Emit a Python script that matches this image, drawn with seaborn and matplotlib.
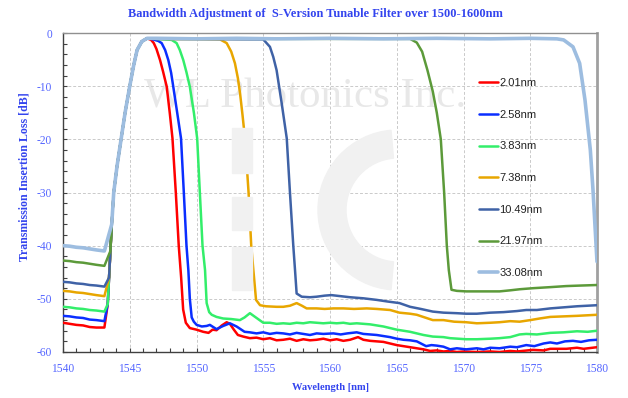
import numpy as np
import pandas as pd
import matplotlib
matplotlib.use("Agg")
import matplotlib.pyplot as plt
import seaborn as sns
from matplotlib.ticker import MultipleLocator
from matplotlib.patches import Wedge, Rectangle
from matplotlib.transforms import IdentityTransform

# ---------------- data ----------------
LABELS = ["2.01nm", "2.58nm", "3.83nm", "7.38nm", "10.49nm", "21.97nm", "33.08nm"]
COLORS = ["#FF0000", "#0A2EFF", "#33EE6A", "#E8A600", "#3F62A6", "#5C9A3A", "#9DBDE0"]

# shared rising edge of the filter
RISE_WL = [1543.25, 1543.35, 1543.45, 1543.55, 1543.65, 1543.8, 1544.05, 1544.35, 1544.65,
           1545.0, 1545.3, 1545.55, 1545.9, 1546.3]
RISE_DB = [-55, -51, -46, -41, -36, -30, -25, -20, -15, -10, -6, -3.2, -1.6, -1.0]

# left floor (before the rising edge)
LEFT_WL = [1540, 1540.5, 1541, 1541.5, 1542, 1542.5, 1543.1]
LEFT_DB = {
    "2.01nm":  [-54.5, -54.7, -54.9, -55.0, -55.3, -55.4, -55.4],
    "2.58nm":  [-53.2, -53.3, -53.5, -53.6, -53.9, -54.0, -54.2],
    "3.83nm":  [-51.5, -51.6, -51.8, -51.9, -52.1, -52.2, -52.4],
    "7.38nm":  [-48.5, -48.6, -48.8, -48.9, -49.1, -49.3, -49.5],
    "10.49nm": [-46.8, -46.9, -47.1, -47.2, -47.4, -47.5, -47.7],
    "21.97nm": [-42.8, -42.9, -43.1, -43.2, -43.4, -43.6, -43.8],
    "33.08nm": [-40.0, -40.1, -40.3, -40.4, -40.6, -40.8, -41.0],
}

# top, falling edge and right floor
RED_WL = [1546.6, 1546.8, 1547.0, 1547.27, 1547.5, 1547.77, 1548.0, 1548.2, 1548.45, 1548.67, 1548.85,
          1549.0, 1549.2, 1549.5, 1550.0, 1550.5, 1550.9, 1551.2, 1551.5, 1551.9, 1552.26, 1552.5,
          1552.8, 1553.1, 1553.5, 1554.0, 1554.5, 1555, 1555.5, 1556, 1556.5, 1557, 1557.5, 1558,
          1558.5, 1559, 1559.5, 1560, 1560.5, 1561, 1561.5, 1562.1, 1562.5, 1563, 1563.5, 1564,
          1564.5, 1565, 1565.5, 1566, 1566.5, 1567, 1567.5, 1568, 1568.5, 1569, 1569.5, 1570, 1571,
          1572, 1572.7, 1573.5, 1574, 1575.2, 1576, 1576.5, 1577.7, 1578.5, 1579, 1580]
RED_DB = [-1.3, -1.9, -3.0, -5.1, -7.3, -10.1, -15.1, -19.8, -30, -40, -46,
          -52, -54.5, -55.5, -55.8, -56.2, -56.4, -55.8, -55.9, -55.0, -54.4, -54.7,
          -55.8, -56.8, -57.1, -57.4, -57.3, -57.6, -57.4, -57.8, -57.7, -57.5, -57.9, -57.6,
          -57.8, -57.7, -57.5, -57.8, -57.6, -57.9, -57.7, -57.2, -57.7, -57.9, -58.0, -58.1,
          -58.4, -58.7, -58.9, -59.1, -59.3, -59.5, -59.8, -59.7, -59.9, -59.8, -60.0, -59.9, -60.0,
          -59.9, -60.0, -59.8, -59.9, -59.6, -59.7, -59.4, -59.4, -59.2, -59.4, -59.1]

BLUE_WL = [1546.6, 1547.14, 1547.39, 1547.65, 1547.89, 1548.1, 1548.26, 1548.56, 1548.84, 1549.05,
           1549.25, 1549.39, 1549.5, 1549.64, 1549.8, 1550.01, 1550.4, 1550.76, 1551.0, 1551.5,
           1552.0, 1552.5, 1553, 1553.6, 1554.0, 1554.5, 1555, 1555.5, 1556, 1556.5, 1557, 1557.5,
           1558, 1558.5, 1559, 1559.5, 1560.25, 1560.8, 1561.3, 1562, 1562.5, 1563, 1563.5, 1564,
           1564.5, 1565, 1565.5, 1566, 1566.5, 1567.2, 1567.6, 1568, 1568.5, 1569, 1569.5, 1570.2,
           1571, 1571.5, 1572, 1572.7, 1573.5, 1574, 1574.7, 1575.3, 1576, 1576.5, 1577, 1577.6,
           1578.2, 1578.8, 1579.4, 1580]
BLUE_DB = [-1.1, -1.5, -1.9, -3.2, -5.1, -7.5, -10.1, -15.1, -19.8, -30,
           -40, -44.6, -50, -53.5, -54.3, -54.9, -55.2, -55.1, -54.9, -55.7,
           -55.1, -54.6, -55.2, -56.2, -56.3, -56.5, -56.3, -56.6, -56.4, -56.5, -56.7, -56.4,
           -56.6, -56.8, -56.5, -56.6, -56.5, -56.7, -56.5, -56.3, -56.6, -56.7, -56.8, -57.0,
           -57.2, -57.5, -57.7, -57.8, -58.0, -58.9, -58.7, -58.8, -59.0, -59.5, -59.3, -59.5,
           -59.3, -59.5, -59.2, -59.3, -59.0, -59.1, -58.7, -58.9, -58.4, -58.2, -58.4, -58.0,
           -57.9, -58.1, -57.8, -57.7]

GREEN_WL = [1547.0, 1548.14, 1548.51, 1548.75, 1549.01, 1549.25, 1549.5, 1549.81, 1550.05, 1550.25,
            1550.45, 1550.64, 1550.76, 1550.95, 1551.14, 1551.5, 1552.0, 1552.6, 1553.25, 1553.6,
            1554.0, 1554.5, 1555.0, 1555.5, 1556, 1556.5, 1557, 1557.5, 1558, 1558.5, 1559, 1559.5,
            1560, 1560.5, 1561, 1561.5, 1562, 1562.5, 1563, 1563.5, 1564, 1564.5, 1565, 1565.5,
            1566, 1566.5, 1567, 1567.7, 1568.5, 1569, 1570.2, 1571, 1572, 1572.7, 1573.5, 1574.2,
            1574.7, 1575.5, 1576.5, 1577.5, 1578.5, 1579.3, 1580]
GREEN_DB = [-1.1, -1.3, -1.9, -3.2, -5.1, -7.4, -10.1, -15.1, -19.8, -30,
            -40, -44.6, -50.8, -52.5, -53.0, -53.4, -53.7, -53.8, -54.0, -53.5,
            -52.7, -53.6, -54.5, -54.5, -54.7, -54.6, -54.7, -54.5, -54.6, -54.4, -54.5, -54.6,
            -54.5, -54.6, -54.5, -54.7, -54.6, -54.7, -54.8, -55.0, -55.2, -55.5, -55.8, -56.0,
            -56.2, -56.5, -56.8, -57.1, -57.2, -57.4, -57.6, -57.6, -57.5, -57.4, -57.2, -56.7,
            -56.6, -56.7, -56.4, -56.3, -56.1, -56.2, -56.0]

ORANGE_WL = [1547, 1551.76, 1552.26, 1552.6, 1552.88, 1553.1, 1553.26, 1553.45, 1553.63, 1553.9,
             1554.1, 1554.26, 1554.46, 1554.76, 1555.2, 1556, 1556.5, 1557.0, 1557.5, 1557.9,
             1558.25, 1559, 1559.6, 1560.25, 1561, 1561.8, 1562.75, 1563.5, 1564.5, 1565.2, 1566,
             1566.5, 1567.1, 1567.7, 1568.5, 1569.3, 1570.2, 1571, 1572, 1572.7, 1573.5, 1574.2,
             1575, 1575.7, 1576.5, 1577.5, 1578.5, 1580]
ORANGE_DB = [-1.1, -1.2, -1.9, -3.5, -5.7, -8.5, -11.3, -15.5, -19.8, -30,
             -40, -44.6, -50.2, -51.2, -51.4, -51.5, -51.5, -51.3, -50.8, -51.3,
             -51.8, -51.8, -51.9, -51.8, -51.8, -51.9, -51.8, -51.9, -52.1, -52.6, -52.8,
             -53.0, -53.5, -54.0, -54.0, -54.3, -54.4, -54.6, -54.5, -54.4, -54.2, -54.3,
             -54.0, -53.7, -53.4, -53.3, -53.2, -53.0]

DBLUE_WL = [1547, 1555.0, 1555.5, 1555.75, 1556.0, 1556.38, 1556.76, 1557.0, 1557.25, 1557.38,
            1557.5, 1557.88, 1558.5, 1559, 1559.6, 1560.1, 1560.8, 1561.5, 1562.5, 1563.5, 1564.3,
            1565.2, 1566, 1566.8, 1567.7, 1568.5, 1569.5, 1570.2, 1571, 1572, 1573, 1574, 1574.7,
            1575.5, 1576.5, 1577.5, 1578.5, 1580]
DBLUE_DB = [-1.1, -1.2, -2.6, -4.5, -7.0, -13.2, -19.8, -30, -40, -44.6,
            -49.0, -49.6, -49.7, -49.6, -49.4, -49.3, -49.5, -49.7, -49.9, -50.2, -50.5,
            -50.8, -51.5, -51.9, -52.4, -52.6, -52.7, -52.8, -52.8, -52.6, -52.5, -52.3, -52.1,
            -52.1, -51.8, -51.6, -51.4, -51.2]

OLIVE_WL = [1547, 1566.0, 1566.5, 1566.9, 1567.3, 1567.7, 1568.0, 1568.3, 1568.55, 1568.75, 1568.9,
            1569.1, 1569.5, 1570.2, 1571, 1572, 1572.7, 1573.5, 1574.2, 1575.2, 1576.5, 1577.7,
            1578.8, 1580]
OLIVE_DB = [-1.1, -1.1, -1.8, -3.5, -7, -11, -15, -20, -30, -40, -44.6,
            -48.3, -48.5, -48.6, -48.6, -48.6, -48.6, -48.4, -48.2, -48.0, -47.8, -47.6,
            -47.5, -47.4]

LBLUE_WL = [1547, 1550, 1553, 1556, 1560, 1564, 1568, 1572, 1575, 1577.0, 1577.5, 1578.2, 1578.7,
            1579.1, 1579.5, 1579.7, 1580]
LBLUE_DB = [-1.0, -1.1, -1.0, -1.1, -1.0, -1.1, -1.0, -1.1, -1.0, -1.1, -1.3, -2.6, -5.7,
            -12.6, -22, -29.5, -43]

RIGHT = {
    "2.01nm": (RED_WL, RED_DB),
    "2.58nm": (BLUE_WL, BLUE_DB),
    "3.83nm": (GREEN_WL, GREEN_DB),
    "7.38nm": (ORANGE_WL, ORANGE_DB),
    "10.49nm": (DBLUE_WL, DBLUE_DB),
    "21.97nm": (OLIVE_WL, OLIVE_DB),
    "33.08nm": (LBLUE_WL, LBLUE_DB),
}

# ---------------- build long-form table ----------------
rows = []
for lab in LABELS:
    left = LEFT_DB[lab]
    pts = list(zip(LEFT_WL, left))
    pts += [(w, d) for w, d in zip(RISE_WL, RISE_DB) if d > left[-1] + 0.5]
    pts += list(zip(*RIGHT[lab]))
    for i, (w, d) in enumerate(pts):
        rows.append({"wl": w, "db": d, "series": lab, "order": i})
df = pd.DataFrame(rows)

# ---------------- figure ----------------
sns.set_theme(style="white")
plt.rcParams["axes.unicode_minus"] = False
serif = ["Liberation Serif", "DejaVu Serif"]
BLUE_TXT = "#3344EE"
TICK_TXT = "#5566FF"
FIG_H = 398

fig = plt.figure(figsize=(6.28, 3.98), dpi=100)
ax = fig.add_axes([63 / 628, 1 - 352 / 398, 534 / 628, 319 / 398])

# watermark text and faint logo (pixel positions)
ax.text(0.453, 0.80, "WL Photonics Inc.", transform=ax.transAxes, ha="center", va="center",
        fontsize=31, family=serif, color="#E8E8E8", zorder=0)
LOGO_GREY = "#F1F1F1"
for y0, y1 in [(128, 173), (197, 230), (247, 290)]:
    fig.patches.append(Rectangle((232, FIG_H - y1), 20, y1 - y0, transform=IdentityTransform(),
                                 color=LOGO_GREY, zorder=0))
fig.patches.append(Wedge((398, FIG_H - 210), 80, 95, 265, width=28, transform=IdentityTransform(),
                         color=LOGO_GREY, zorder=0))
ax.patch.set_alpha(0)

widths = {"33.08nm": 2.6}
for lab, col in list(zip(LABELS, COLORS)):
    sub = df[df.series == lab]
    sns.lineplot(data=sub, x="wl", y="db", ax=ax, color=col, sort=False, estimator=None,
                 linewidth=widths.get(lab, 1.8), label=lab, zorder=3 if lab != "33.08nm" else 4)

ax.set_xlim(1540, 1580)
ax.set_ylim(-60, 0)
ax.xaxis.set_major_locator(MultipleLocator(5))
ax.xaxis.set_minor_locator(MultipleLocator(1))
ax.yaxis.set_major_locator(MultipleLocator(10))
ax.yaxis.set_minor_locator(MultipleLocator(2))
ax.grid(True, which="major", linestyle=(0, (3, 2)), color="#CACACA", linewidth=0.7)
ax.set_axisbelow(True)
ax.tick_params(which="both", direction="in", length=3, width=0.8, color="#404040",
               bottom=True, left=True, top=False, right=False)
ax.tick_params(axis="x", which="major", pad=8, labelsize=8.3, labelcolor=TICK_TXT)
ax.tick_params(axis="y", which="major", pad=8, labelsize=8.3, labelcolor=TICK_TXT)
for t in ax.get_xticklabels() + ax.get_yticklabels():
    t.set_family(serif)

for s in ["left", "bottom"]:
    ax.spines[s].set_color("#404040")
    ax.spines[s].set_linewidth(1.0)
ax.spines["top"].set_color("#909090")
ax.spines["top"].set_linewidth(1.0)
ax.spines["right"].set_color("#A0A0A0")
ax.spines["right"].set_linewidth(2.0)

ax.set_xlabel("Wavelength [nm]", fontsize=7.6, fontweight="bold", family=serif, color=BLUE_TXT)
ax.set_ylabel("Transmission Insertion Loss [dB]", fontsize=8.6, fontweight="bold", family=serif,
              color=BLUE_TXT)
ax.xaxis.set_label_coords(0.5, -0.097)
ax.yaxis.set_label_coords(-0.06, 0.55)

fig.text(0.503, 1 - 14 / 398, "Bandwidth Adjustment of  S-Version Tunable Filter over 1500-1600nm",
         ha="center", va="center", fontsize=8.9, fontweight="bold", family=serif, color=BLUE_TXT)

handles, labels = ax.get_legend_handles_labels()
leg = ax.legend(handles, labels, loc="upper left", bbox_to_anchor=(0.76, 0.89), frameon=False,
                handlelength=1.7, handletextpad=0.15, labelspacing=1.95,
                prop={"family": "Liberation Sans", "size": 8})
for t in leg.get_texts():
    t.set_color("#222222")

fig.savefig("out.png", dpi=100)
